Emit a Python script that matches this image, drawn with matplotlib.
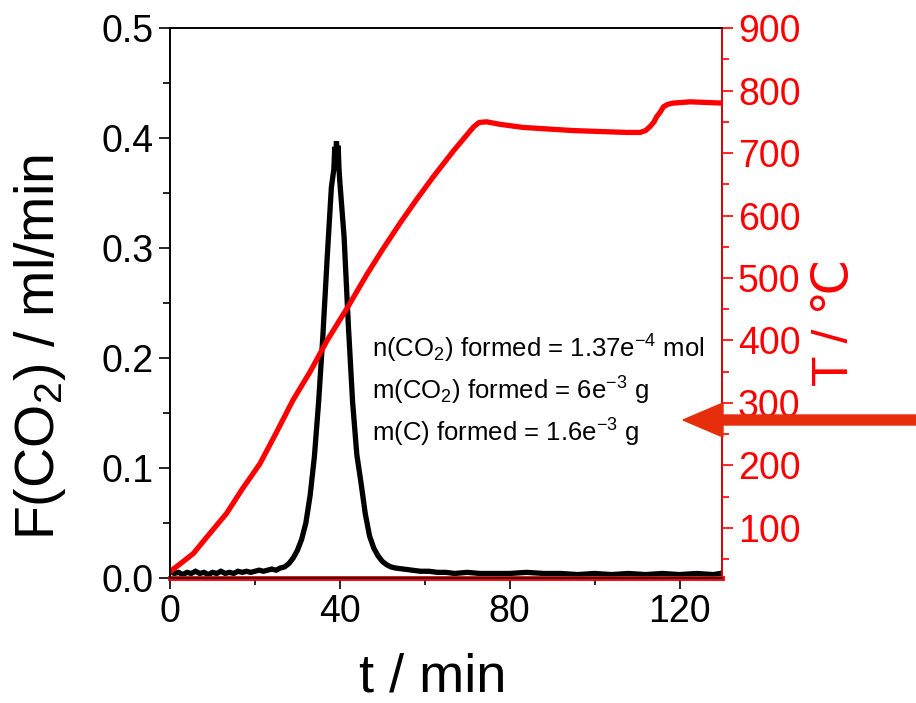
import matplotlib
matplotlib.use("Agg")
import matplotlib.pyplot as plt
from matplotlib.patches import FancyArrow
from matplotlib.ticker import MultipleLocator, FormatStrFormatter

plt.rcParams["font.family"] = ["Liberation Sans", "DejaVu Sans"]
plt.rcParams["mathtext.default"] = "regular"

RED = "#ff0000"
ARROW = "#e62e0d"

# CO2 flow, ml/min (black trace)
t_co2 = [0, 1, 2, 3, 4, 5, 6, 7, 8, 9, 10, 11, 12, 13, 14, 15, 16, 17, 18, 19,
         20, 21, 22, 23, 24, 25, 26, 27, 28, 29, 30, 31, 32, 33, 34, 35, 36, 37,
         38, 38.6, 38.8, 39.0, 39.2, 39.4, 39.6, 39.8, 40, 41, 42, 43, 44, 45,
         46, 47, 48, 49, 50, 51, 52, 53, 55, 57, 59, 61, 63, 65, 67, 70, 73,
         76, 80, 84, 88, 92, 96, 100, 104, 108, 112, 116, 120, 124, 128, 129.5]
f_co2 = [0.006, 0.004, 0.005, 0.003, 0.005, 0.004, 0.006, 0.004, 0.005, 0.003,
         0.005, 0.004, 0.006, 0.004, 0.005, 0.004, 0.006, 0.005, 0.006, 0.005,
         0.006, 0.007, 0.006, 0.007, 0.008, 0.007, 0.009, 0.010, 0.013, 0.018,
         0.025, 0.035, 0.050, 0.075, 0.110, 0.160, 0.220, 0.290, 0.355, 0.372,
         0.392, 0.375, 0.397, 0.378, 0.393, 0.372, 0.360, 0.310, 0.230, 0.160,
         0.112, 0.086, 0.058, 0.038, 0.027, 0.020, 0.015, 0.012, 0.010, 0.009,
         0.008, 0.007, 0.006, 0.006, 0.005, 0.005, 0.004, 0.005, 0.004, 0.004,
         0.004, 0.005, 0.004, 0.004, 0.003, 0.004, 0.003, 0.004, 0.003, 0.004,
         0.003, 0.004, 0.003, 0.004]

# temperature, degC (red trace)
t_temp = [0, 2.5, 5.5, 9.0, 13.3, 17.0, 21.2, 25.0, 29.0, 33.0, 37.0, 42.0,
          46.3, 50.0, 54.2, 58.0, 62.0, 66.7, 69.9, 71.5, 72.8, 74.6, 77.7,
          83.2, 95.0, 107.6, 110.7, 112.0, 113.0, 114.0, 114.6, 115.5, 116.2,
          117.2, 118.5, 122.5, 130]
temp = [30, 43, 59, 88, 123, 162, 203, 252, 305, 350, 400, 455, 505, 545, 588,
        625, 662, 703, 729, 742, 749, 750, 746, 741, 736, 733, 733, 736, 742,
        750, 758, 766, 774, 778, 780, 782, 780]

notes = [r"n(CO$_2$) formed = 1.37e$^{-4}$ mol",
         r"m(CO$_2$) formed = 6e$^{-3}$ g",
         r"m(C) formed = 1.6e$^{-3}$ g"]

fig = plt.figure(figsize=(9.16, 7.03), dpi=100)
ax = fig.add_axes([0.1856, 0.178, 0.6026, 0.782])
ax2 = ax.twinx()

ax.plot(t_co2, f_co2, color="black", lw=3.8, solid_joinstyle="miter")
ax.set_xlim(0, 130)
ax.set_ylim(0, 0.5)
ax.xaxis.set_major_locator(MultipleLocator(40))
ax.xaxis.set_minor_locator(MultipleLocator(20))
ax.yaxis.set_major_locator(MultipleLocator(0.1))
ax.yaxis.set_minor_locator(MultipleLocator(0.05))
ax.yaxis.set_major_formatter(FormatStrFormatter("%.1f"))
ax.tick_params(which="major", length=8, width=1.2, labelsize=27, direction="out")
ax.tick_params(which="minor", length=5, width=1.2, direction="out")
ax.set_xlabel("t / min", fontsize=39)
ax.xaxis.set_label_coords(0.476, -0.182)
ax.xaxis.label.set_verticalalignment("center")
ax.set_ylabel(r"F(CO$_2$) / ml/min", fontsize=40)
ax.yaxis.set_label_coords(-0.235, 0.42)
ax.yaxis.label.set_verticalalignment("center")
for s in ax.spines.values():
    s.set_linewidth(1.2)

for i, line in enumerate(notes):
    ax.text(47.6, 0.208 - i * 0.038, line, fontsize=18.5, va="center")

ax2.plot(t_temp, temp, color=RED, lw=3.8)
ax2.axhline(20, color=RED, lw=3.5, clip_on=False)
ax2.set_ylim(20, 900)
ax2.yaxis.set_minor_locator(MultipleLocator(50))
ax2.set_yticks([100, 200, 300, 400, 500, 600, 700, 800, 900])
ax2.tick_params(which="major", length=8, width=1.2, labelsize=27,
                colors=RED, direction="out")
ax2.tick_params(which="minor", length=5, width=1.2, colors=RED, direction="out")
ax2.set_ylabel("T / \u2103", fontsize=36, color=RED)
ax2.yaxis.set_label_coords(1.205, 0.465)
ax2.yaxis.label.set_verticalalignment("center")
ax2.spines["right"].set_color(RED)
for s in ax2.spines.values():
    s.set_linewidth(1.2)

fig.add_artist(FancyArrow(9.2, 2.83, -2.37, 0, width=0.1, head_width=0.34,
                          head_length=0.40, length_includes_head=True,
                          color=ARROW, transform=fig.dpi_scale_trans))

fig.savefig("out.png", dpi=100)
